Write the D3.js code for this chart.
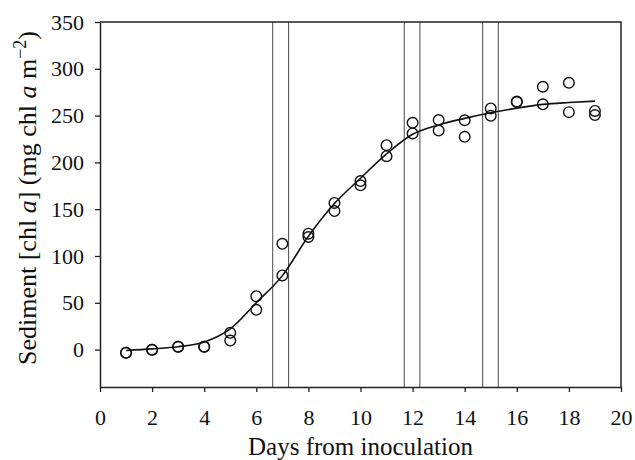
<!DOCTYPE html>
<html>
<head>
<meta charset="utf-8">
<script src="https://cdn.jsdelivr.net/npm/d3@7"></script>
<style>
  body { margin: 0; background: #fff; }
</style>
</head>
<body>
<svg width="635" height="460"></svg>
<script>
// sampling days and the two replicate measurements
var days = [1, 2, 3, 4, 5, 6, 7, 8, 9, 10, 11, 12, 13, 14, 15, 16, 17, 18, 19];
var rep1 = [-3.5, -0.3, 3, 3, 17.9, 57, 113, 123.8, 156.7, 180, 218.4, 242.3, 245.2, 245, 257.7, 265, 280.8, 285, 255];
var rep2 = [-3.5, -0.3, 3, 3, 9.6, 42.5, 79.2, 120.3, 148, 175.5, 206.6, 230.9, 234, 227.3, 249.8, 264.5, 262, 253.7, 250.5];

// fitted curve
var fitDays = [1, 2, 3, 4, 5, 6, 7, 8, 9, 10, 11, 12, 13, 14, 15, 16, 17, 18, 19];
var fitVals = [-1, 0.7, 3, 8, 22, 50, 79, 121, 156, 183, 209, 230, 240, 247, 253, 258, 262, 264, 265.5];

// vertical marker lines (days)
var markers = [6.63, 7.24, 11.68, 12.28, 14.69, 15.29];

var xTicks = [0, 2, 4, 6, 8, 10, 12, 14, 16, 18, 20];
var yTicks = [0, 50, 100, 150, 200, 250, 300, 350];

var serif = "Liberation Serif, Times New Roman, serif";

var svg = d3.select("svg"),
    margin = {top: 22, right: 14, bottom: 73, left: 100},
    width = +svg.attr("width") - margin.left - margin.right,
    height = +svg.attr("height") - margin.top - margin.bottom,
    g = svg.append("g").attr("transform", "translate(" + margin.left + "," + margin.top + ")");

var x = d3.scaleLinear().domain([0, 20]).range([0, width]);
var y = d3.scaleLinear().domain([-40, 350]).range([height, 0]);

// markers
g.selectAll(".marker")
    .data(markers)
  .enter().append("line")
    .attr("class", "marker")
    .attr("x1", function(d) { return x(d); })
    .attr("x2", function(d) { return x(d); })
    .attr("y1", 0)
    .attr("y2", height)
    .attr("stroke", "#4a4a4a")
    .attr("stroke-width", 1);

// frame top + right
g.append("path")
    .attr("d", "M0,0H" + width + "V" + height)
    .attr("fill", "none")
    .attr("stroke", "#222")
    .attr("stroke-width", 1.5);

var xAxis = g.append("g")
    .attr("transform", "translate(0," + height + ")")
    .call(d3.axisBottom(x).tickValues(xTicks).tickSize(5).tickPadding(17).tickSizeOuter(0));
var yAxis = g.append("g")
    .call(d3.axisLeft(y).tickValues(yTicks).tickSize(5).tickPadding(11).tickSizeOuter(0));

[xAxis, yAxis].forEach(function(a) {
  a.attr("font-family", serif).attr("font-size", 22);
  a.select(".domain").attr("stroke", "#222").attr("stroke-width", 1.5);
  a.selectAll(".tick line").attr("stroke", "#222").attr("stroke-width", 1.3);
  a.selectAll("text").attr("fill", "#111");
});

// fitted line
var line = d3.line()
    .x(function(d, i) { return x(fitDays[i]); })
    .y(function(d) { return y(d); })
    .curve(d3.curveMonotoneX);

g.append("path")
    .datum(fitVals)
    .attr("fill", "none")
    .attr("stroke", "#111")
    .attr("stroke-width", 1.6)
    .attr("d", line);

// points
var pts = [];
for (var i = 0; i < days.length; i++) {
  pts.push({d: days[i], v: rep1[i]});
  pts.push({d: days[i], v: rep2[i]});
}
g.selectAll(".pt")
    .data(pts)
  .enter().append("circle")
    .attr("class", "pt")
    .attr("cx", function(d) { return x(d.d); })
    .attr("cy", function(d) { return y(d.v); })
    .attr("r", 5.3)
    .attr("fill", "none")
    .attr("stroke", "#111")
    .attr("stroke-width", 1.4);

// axis labels
svg.append("text")
    .attr("x", margin.left + width / 2)
    .attr("y", 455)
    .attr("text-anchor", "middle")
    .attr("font-family", serif)
    .attr("font-size", 25)
    .attr("fill", "#111")
    .text("Days from inoculation");

var yl = svg.append("text")
    .attr("transform", "translate(36,198) rotate(-90)")
    .attr("text-anchor", "middle")
    .attr("font-family", serif)
    .attr("font-size", 26)
    .attr("fill", "#111");
yl.append("tspan").text("Sediment [chl ");
yl.append("tspan").attr("font-style", "italic").text("a");
yl.append("tspan").text("] (mg chl ");
yl.append("tspan").attr("font-style", "italic").text("a");
yl.append("tspan").text(" m");
yl.append("tspan").attr("font-size", 18).attr("dy", -10).text("\u22122");
yl.append("tspan").attr("dy", 10).text(")");
</script>
</body>
</html>
